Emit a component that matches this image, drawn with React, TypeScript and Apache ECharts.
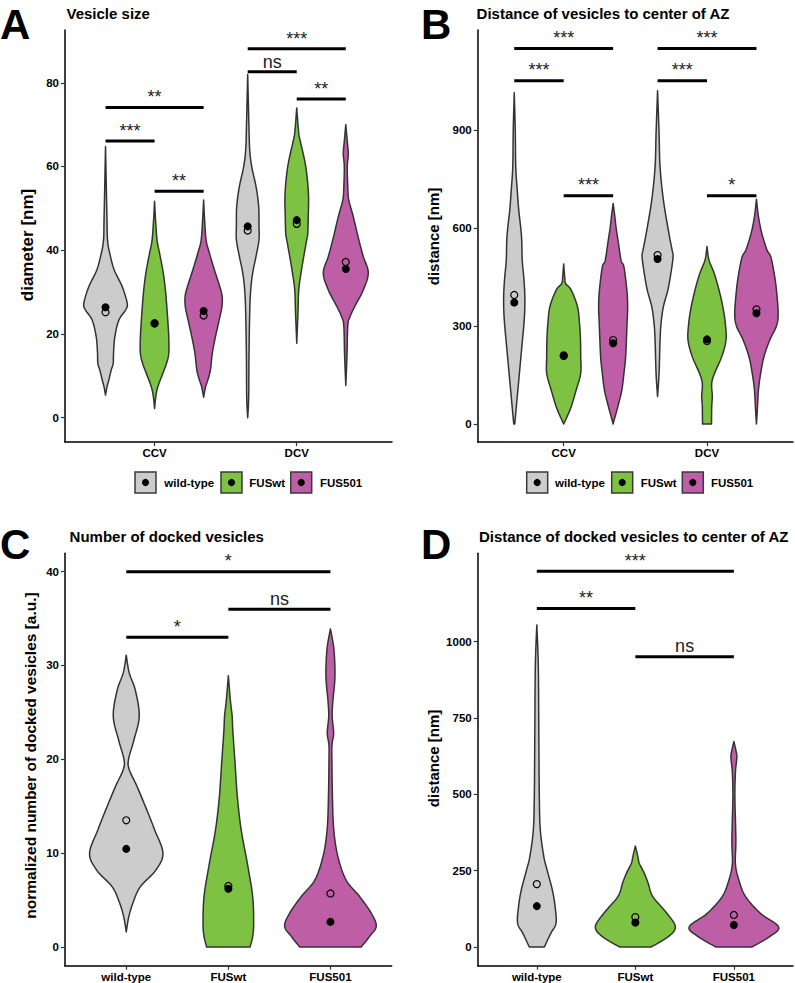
import React, { useEffect, useRef } from "react";
import * as echarts from "echarts";

const FONT = '"Liberation Sans", Arial, Helvetica, sans-serif';

// ---------- shared ----------
const GROUPS = ["wild-type", "FUSwt", "FUS501"];
const GROUP_COLORS = ["#CCCCCC", "#7DC242", "#BE5EA6"];
const VESICLE_TYPES = ["CCV", "DCV"];

// ---------- Panel A: Vesicle size (diameter, nm) ----------
// violin profiles: [value, relative half-density], order CCV wt/FUSwt/FUS501, DCV wt/FUSwt/FUS501
const A_CCV_WT = [[64.8, 0], [55, 0.8], [47, 1.5], [42.4, 2], [39.3, 4.2], [35.3, 8.7], [31.3, 16.7], [27.3, 21.7], [25.7, 20], [23.3, 13.3], [19.3, 9.3], [15.4, 8], [13, 7.7], [11.4, 5.7], [9, 3.3], [7.4, 1.5], [5.4, 0]];
const A_CCV_FUSWT = [[51.7, 0], [47.2, 1], [42.4, 2.5], [39.3, 5], [35.3, 8.2], [31.3, 10.5], [27.3, 12], [23.3, 13.2], [19.3, 14.2], [15.4, 14.2], [13, 12], [10.6, 8.3], [7.4, 3.3], [5, 1.2], [2.2, 0]];
const A_CCV_FUS501 = [[52, 0], [47.2, 1], [42.4, 2.5], [39.3, 5.8], [35.3, 10.8], [31.3, 16.2], [29, 18.5], [26.5, 18.3], [23.3, 15.5], [19.3, 11.8], [15.4, 8.7], [11.4, 6.8], [9, 4.2], [7.4, 2], [4.9, 0]];
const A_DCV_WT = [[82, 0], [70, 1.2], [64, 2], [60, 4], [55, 8.5], [50.4, 11], [46, 11.3], [42.5, 11.3], [38.5, 8.3], [34.6, 5], [30.5, 3], [25, 2], [15, 1.3], [5, 1], [0, 0]];
const A_DCV_FUSWT = [[74, 0], [68, 2], [65.6, 4], [60, 9], [53.6, 11.7], [48, 11.5], [44, 11], [42.5, 10], [38.5, 7], [34.6, 4.3], [30.5, 2], [25, 1.2], [17.8, 0]];
const A_DCV_FUS501 = [[70, 0], [66, 1.5], [63, 2.5], [60, 1.5], [55, 2], [52, 3], [48, 7.5], [42.5, 13], [38.5, 17.5], [34.6, 22.5], [30.5, 17.5], [26.6, 9], [24, 4], [22, 2], [15, 1.2], [7.7, 0]];
const A_MEDIAN = [26.4, 22.6, 25.5, 45.7, 47.2, 35.5];
const A_MEAN = [25.2, 22.5, 24.4, 44.7, 46.3, 37.2];
// [vesicle type (1-based), from group, to group, y]
const A_SIGNIF = [[1, 0, 2, 74.1], [1, 0, 1, 66.1], [1, 1, 2, 54.1], [2, 0, 2, 88.1], [2, 0, 1, 82.6], [2, 1, 2, 76.1]];
const A_SIGNIF_LABELS = ["**", "***", "**", "***", "ns", "**"];
const A_TICKS = [0, 20, 40, 60, 80];

// ---------- Panel B: Distance of vesicles to center of AZ ----------
const B_CCV_WT = [[1014, 0], [900, 1], [787, 1.5], [716, 3], [655, 4.5], [600, 6.5], [560, 7.5], [500, 8], [450, 9.5], [400, 10.5], [350, 10.5], [300, 9.5], [250, 8], [200, 6.5], [150, 5], [100, 3.5], [50, 2], [0, 0.5]];
const B_CCV_FUSWT = [[490, 0], [450, 1], [430, 2], [410, 7.5], [359, 13.8], [308, 15.8], [257, 16.8], [206, 17], [155, 17], [104, 12.5], [53, 7.5], [20, 3], [0, 0]];
const B_CCV_FUS501 = [[675, 0], [640, 1.5], [600, 3], [560, 5], [500, 8], [481, 10.8], [410, 13.7], [359, 14.5], [300, 13.8], [206, 12.5], [155, 10.8], [104, 8.7], [53, 4.7], [12, 1], [0, 0]];
const B_DCV_WT = [[1020, 0], [890, 1.5], [787, 2.5], [686, 5.8], [584, 11.3], [533, 14.5], [512, 15.5], [461, 13.3], [410, 10.3], [359, 5.8], [308, 3.5], [257, 2.5], [155, 1.5], [84, 0]];
const B_DCV_FUSWT = [[543, 0], [502, 2], [461, 7.2], [410, 12], [359, 15.8], [308, 18.3], [257, 19], [206, 14.7], [155, 7.5], [124, 4.7], [84, 5.3], [53, 4.7], [0, 4.5]];
const B_DCV_FUS501 = [[688, 0], [635, 2], [584, 5.3], [533, 10.5], [512, 14.3], [461, 17.7], [410, 20], [339, 21.7], [300, 20], [257, 13.3], [206, 7.5], [155, 4.2], [104, 2], [50, 1], [0, 0]];
const B_MEDIAN = [372, 208, 247, 505, 259, 339];
const B_MEAN = [395, 210, 257, 517, 254, 351];
const B_SIGNIF = [[1, 0, 2, 1149], [1, 0, 1, 1051], [1, 1, 2, 699], [2, 0, 2, 1149], [2, 0, 1, 1051], [2, 1, 2, 699]];
const B_SIGNIF_LABELS = ["***", "***", "***", "***", "***", "*"];
const B_TICKS = [0, 300, 600, 900];

// ---------- Panel C: Number of docked vesicles ----------
const C_WT = [[31.1, 0], [29.2, 3], [27.4, 9], [24.6, 13], [22, 7.5], [20, 2.3], [18.9, 3], [17.1, 10.8], [14.3, 21.7], [12.5, 28.3], [10, 36.7], [8.2, 29.7], [6.4, 14], [4.7, 6.7], [3.2, 2.5], [1.6, 0]];
const C_FUSWT = [[28.9, 0], [26.3, 2], [24.6, 3.8], [23, 4.5], [19.6, 6.7], [16, 9], [12.5, 12.8], [8.9, 19], [5.4, 24.3], [2.5, 25.3], [1.1, 24.3], [0, 21.7]];
const C_FUS501 = [[33.9, 0], [31.7, 3.5], [28.8, 4.5], [26.3, 2.5], [24.6, 1.7], [22.8, 3.2], [21.5, 1.5], [19.6, 1.5], [16, 2], [12.5, 3.3], [9.6, 7.5], [7.1, 15.8], [5.4, 29], [3.6, 40.8], [2.2, 45.8], [1.1, 39], [0, 30.8]];
const C_MEDIAN = [10.45, 6.2, 2.67];
const C_MEAN = [13.5, 6.5, 5.7];
// [from group, to group, y]
const C_SIGNIF = [[0, 2, 40], [1, 2, 36], [0, 1, 33]];
const C_SIGNIF_LABELS = ["*", "ns", "*"];
const C_TICKS = [0, 10, 20, 30, 40];

// ---------- Panel D: Distance of docked vesicles to center of AZ ----------
const D_WT = [[1055, 0], [918, 1.5], [700, 2], [492, 2.5], [383, 3.5], [296, 7], [252, 10.3], [187, 15.5], [132, 18.3], [78, 19.2], [45, 14], [0, 7.5]];
const D_FUSWT = [[331, 0], [296, 2.5], [274, 4], [241, 9], [209, 12.8], [165, 17.5], [110, 31.7], [66, 40], [34, 33], [0, 15.8]];
const D_FUS501 = [[673, 0], [645, 2], [623, 3], [590, 2], [569, 1.5], [492, 1], [350, 2], [274, 1.5], [219, 5], [165, 11.7], [110, 26.7], [66, 44.7], [34, 35.8], [0, 18]];
const D_MEDIAN = [134, 80, 72];
const D_MEAN = [206, 98, 105];
const D_SIGNIF = [[0, 2, 1231], [0, 1, 1109], [1, 2, 951]];
const D_SIGNIF_LABELS = ["***", "**", "ns"];
const D_TICKS = [0, 250, 500, 750, 1000];

// ---------- layout ----------
const DODGE = 0.345;

type Panel = {
  grid: { left: number; top: number; width: number; height: number };
  xMin: number; xMax: number; yMin: number; yMax: number;
  xLabels: string[]; yTicks: number[];
  profiles: number[][][]; median: number[]; mean: number[];
  sig: number[][]; sigLabels: string[];
  dodged: boolean; pxPerUnit: number;
};

const PANELS: Panel[] = [
  {
    grid: { left: 65, top: 30, width: 327, height: 412 },
    xMin: 0.37, xMax: 2.67, yMin: -5.8, yMax: 92.6,
    xLabels: VESICLE_TYPES, yTicks: A_TICKS,
    profiles: [A_CCV_WT, A_CCV_FUSWT, A_CCV_FUS501, A_DCV_WT, A_DCV_FUSWT, A_DCV_FUS501],
    median: A_MEDIAN, mean: A_MEAN, sig: A_SIGNIF, sigLabels: A_SIGNIF_LABELS,
    dodged: true, pxPerUnit: 142.2,
  },
  {
    grid: { left: 477.7, top: 30, width: 315.3, height: 412 },
    xMin: 0.4, xMax: 2.6, yMin: -55.1, yMax: 1206,
    xLabels: VESICLE_TYPES, yTicks: B_TICKS,
    profiles: [B_CCV_WT, B_CCV_FUSWT, B_CCV_FUS501, B_DCV_WT, B_DCV_FUSWT, B_DCV_FUS501],
    median: B_MEDIAN, mean: B_MEAN, sig: B_SIGNIF, sigLabels: B_SIGNIF_LABELS,
    dodged: true, pxPerUnit: 143.3,
  },
  {
    grid: { left: 65, top: 553.3, width: 326.7, height: 412.4 },
    xMin: 0.4, xMax: 3.6, yMin: -2, yMax: 41.96,
    xLabels: GROUPS, yTicks: C_TICKS,
    profiles: [C_WT, C_FUSWT, C_FUS501],
    median: C_MEDIAN, mean: C_MEAN, sig: C_SIGNIF, sigLabels: C_SIGNIF_LABELS,
    dodged: false, pxPerUnit: 102.1,
  },
  {
    grid: { left: 477.7, top: 553.3, width: 315.3, height: 412.4 },
    xMin: 0.4, xMax: 3.6, yMin: -61.2, yMax: 1289.5,
    xLabels: GROUPS, yTicks: D_TICKS,
    profiles: [D_WT, D_FUSWT, D_FUS501],
    median: D_MEDIAN, mean: D_MEAN, sig: D_SIGNIF, sigLabels: D_SIGNIF_LABELS,
    dodged: false, pxPerUnit: 98.5,
  },
];

function violinX(p: Panel, i: number): number {
  if (p.dodged) {
    const c = Math.floor(i / 3) + 1;
    const g = i % 3;
    return c + (g - 1) * DODGE;
  }
  return i + 1;
}

function sigX(p: Panel, row: number[]): [number, number, number] {
  if (p.dodged) {
    const [c, a, b, y] = row;
    return [c + (a - 1) * DODGE, c + (b - 1) * DODGE, y];
  }
  const [a, b, y] = row;
  return [a + 1, b + 1, y];
}

function catmull(pts: number[][], steps = 8): number[][] {
  if (pts.length < 3) return pts;
  const out: number[][] = [];
  const n = pts.length;
  for (let i = 0; i < n - 1; i++) {
    const p0 = pts[Math.max(i - 1, 0)], p1 = pts[i], p2 = pts[i + 1], p3 = pts[Math.min(i + 2, n - 1)];
    for (let s = 0; s < steps; s++) {
      const t = s / steps, t2 = t * t, t3 = t2 * t;
      const q = [0, 1].map(
        (d) =>
          0.5 *
          (2 * p1[d] + (-p0[d] + p2[d]) * t + (2 * p0[d] - 5 * p1[d] + 4 * p2[d] - p3[d]) * t2 +
            (-p0[d] + 3 * p1[d] - 3 * p2[d] + p3[d]) * t3)
      );
      out.push(q);
    }
  }
  out.push(pts[n - 1]);
  return out;
}

const LETTERS = [
  { t: "A", x: 0, y: 24.5 },
  { t: "B", x: 421, y: 24.5 },
  { t: "C", x: 0, y: 544 },
  { t: "D", x: 421, y: 544 },
];
const TITLES = [
  { t: "Vesicle size", x: 66.5, y: 13.1 },
  { t: "Distance of vesicles to center of AZ", x: 476.6, y: 13.1 },
  { t: "Number of docked vesicles", x: 69.6, y: 536.5 },
  { t: "Distance of docked vesicles to center of AZ", x: 478.9, y: 536.5 },
];
const Y_TITLES = [
  { t: "diameter [nm]", x: 27.8, y: 245, size: 17 },
  { t: "distance [nm]", x: 433.7, y: 236.5, size: 15 },
  { t: "normalized number of docked vesicles [a.u.]", x: 30.7, y: 755.5, size: 15.5 },
  { t: "distance [nm]", x: 433.7, y: 758.5, size: 15 },
];
const LEGENDS = [
  { boxes: [135, 221, 290.7], texts: [164.3, 249.3, 320], y: 472 },
  { boxes: [526.7, 611.7, 682.3], texts: [555, 640.7, 711], y: 472 },
];

function buildOption() {
  const series: any[] = [];
  PANELS.forEach((p, pi) => {
    const k = 1 / p.pxPerUnit;
    series.push({
      type: "custom",
      xAxisIndex: pi,
      yAxisIndex: pi,
      silent: true,
      clip: false,
      z: 2,
      data: p.profiles.map((_, i) => [violinX(p, i), i]),
      renderItem: (_params: any, api: any) => {
        const cx = api.value(0) as number;
        const i = api.value(1) as number;
        const prof = p.profiles[i];
        const cxPx = api.coord([cx, prof[0][0]])[0];
        const right = catmull(prof.map(([v, w]) => api.coord([cx + w * k, v]))).map((q) => [Math.max(q[0], cxPx), q[1]]);
        const left = catmull(prof.map(([v, w]) => api.coord([cx - w * k, v]))).map((q) => [Math.min(q[0], cxPx), q[1]]);
        const pts = right.concat(left.reverse());
        return {
          type: "polygon",
          shape: { points: pts },
          style: { fill: GROUP_COLORS[i % 3], stroke: "#333333", lineWidth: 1.5, lineJoin: "round" },
        };
      },
    });
    series.push({
      type: "scatter",
      xAxisIndex: pi,
      yAxisIndex: pi,
      silent: true,
      z: 4,
      symbol: "circle",
      symbolSize: 8,
      itemStyle: { color: "#000000", opacity: 1 },
      data: p.median.map((v, i) => [violinX(p, i), v]),
    });
    series.push({
      type: "scatter",
      xAxisIndex: pi,
      yAxisIndex: pi,
      silent: true,
      z: 5,
      symbol: "circle",
      symbolSize: 7,
      itemStyle: { color: "rgba(0,0,0,0)", borderColor: "#000000", borderWidth: 1.2, opacity: 1 },
      data: p.mean.map((v, i) => [violinX(p, i), v]),
    });
    series.push({
      type: "custom",
      xAxisIndex: pi,
      yAxisIndex: pi,
      silent: true,
      clip: false,
      z: 3,
      encode: { x: [0, 1], y: 2 },
      data: p.sig.map((row, j) => [...sigX(p, row), j]),
      renderItem: (_params: any, api: any) => {
        const a = api.coord([api.value(0), api.value(2)]);
        const b = api.coord([api.value(1), api.value(2)]);
        const label = p.sigLabels[api.value(3) as number];
        return {
          type: "group",
          children: [
            {
              type: "line",
              shape: { x1: a[0], y1: a[1], x2: b[0], y2: a[1] },
              style: { stroke: "#000000", lineWidth: 3 },
            },
            {
              type: "text",
              x: (a[0] + b[0]) / 2,
              y: a[1] - 4 - 0.3465 * 18,
              style: {
                text: label,
                fill: "#222222",
                font: `18px ${FONT}`,
                align: "center",
                verticalAlign: "middle",
              },
            },
          ],
        };
      },
    });
  });

  const graphic: any[] = [];
  LETTERS.forEach((l) =>
    graphic.push({
      type: "text",
      x: l.x,
      y: l.y,
      silent: true,
      style: { text: l.t, fill: "#000", font: `bold 42px ${FONT}`, align: "left", verticalAlign: "middle" },
    })
  );
  TITLES.forEach((l) =>
    graphic.push({
      type: "text",
      x: l.x,
      y: l.y,
      silent: true,
      style: { text: l.t, fill: "#000", font: `bold 15px ${FONT}`, align: "left", verticalAlign: "middle" },
    })
  );
  Y_TITLES.forEach((l) =>
    graphic.push({
      type: "text",
      x: l.x,
      y: l.y,
      rotation: Math.PI / 2,
      silent: true,
      style: { text: l.t, fill: "#000", font: `bold ${l.size}px ${FONT}`, align: "center", verticalAlign: "middle" },
    })
  );
  LEGENDS.forEach((lg) => {
    GROUPS.forEach((g, gi) => {
      graphic.push({
        type: "rect",
        silent: true,
        shape: { x: lg.boxes[gi], y: lg.y, width: 21, height: 21 },
        style: { fill: GROUP_COLORS[gi], stroke: "#3a3a3a", lineWidth: 1.5 },
      });
      graphic.push({
        type: "circle",
        silent: true,
        shape: { cx: lg.boxes[gi] + 10.5, cy: lg.y + 10.5, r: 3.6 },
        style: { fill: "#000" },
      });
      graphic.push({
        type: "text",
        silent: true,
        x: lg.texts[gi],
        y: lg.y + 11.3,
        style: { text: g, fill: "#000", font: `bold 11.5px ${FONT}`, align: "left", verticalAlign: "middle" },
      });
    });
  });

  return {
    animation: false,
    backgroundColor: "#ffffff",
    grid: PANELS.map((p) => ({ ...p.grid })),
    xAxis: PANELS.map((p, pi) => ({
      type: "value",
      gridIndex: pi,
      min: p.xMin,
      max: p.xMax,
      axisLine: { show: true, onZero: false, lineStyle: { color: "#000", width: 1.5 } },
      axisTick: {
        show: true,
        customValues: p.xLabels.map((_, j) => j + 1),
        length: 4,
        lineStyle: { color: "#333", width: 1.2 },
      },
      axisLabel: {
        show: true,
        customValues: p.xLabels.map((_, j) => j + 1),
        formatter: (v: number) => p.xLabels[Math.round(v) - 1] ?? "",
        fontFamily: FONT,
        fontWeight: "bold",
        fontSize: 11.5,
        color: "#000",
        margin: 5,
      },
      splitLine: { show: false },
    })),
    yAxis: PANELS.map((p, pi) => ({
      type: "value",
      gridIndex: pi,
      min: p.yMin,
      max: p.yMax,
      axisLine: { show: true, onZero: false, lineStyle: { color: "#000", width: 1.5 } },
      axisTick: { show: true, customValues: p.yTicks, length: 4, lineStyle: { color: "#333", width: 1.2 } },
      axisLabel: {
        show: true,
        customValues: p.yTicks,
        formatter: (v: number) => String(v),
        fontFamily: FONT,
        fontWeight: "bold",
        fontSize: 11.5,
        color: "#000",
        margin: 6,
      },
      splitLine: { show: false },
    })),
    series,
    graphic,
  };
}

export default function App() {
  const ref = useRef<HTMLDivElement>(null);
  useEffect(() => {
    if (!ref.current) return;
    const chart = echarts.init(ref.current, undefined, { renderer: "svg" });
    chart.setOption(buildOption() as any);
    return () => chart.dispose();
  }, []);
  return (
    <div
      ref={ref}
      style={{ position: "absolute", left: 0, top: 0, width: 795, height: 983, background: "#fff" }}
    />
  );
}
